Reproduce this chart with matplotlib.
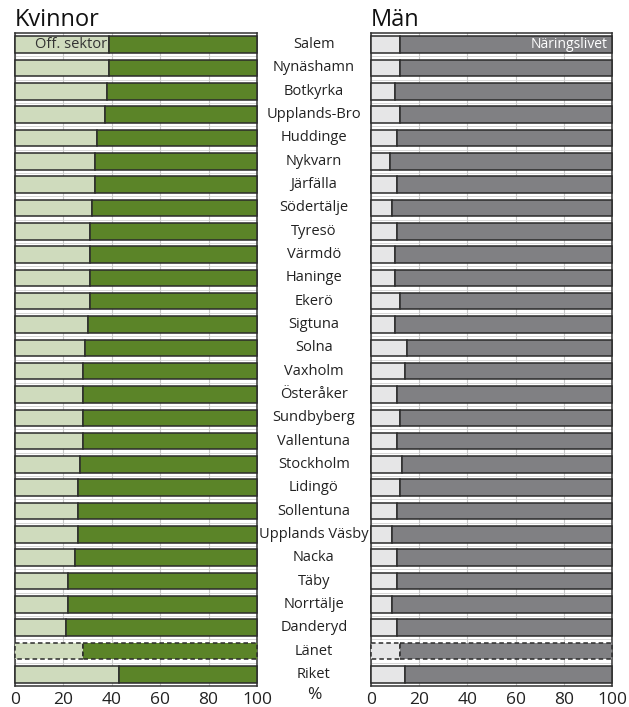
import matplotlib.pyplot as plt
import numpy as np

plt.rcParams['font.family'] = ['Open Sans', 'DejaVu Sans']

kommuner = ["Salem", "Nynäshamn", "Botkyrka", "Upplands-Bro", "Huddinge", "Nykvarn",
            "Järfälla", "Södertälje", "Tyresö", "Värmdö", "Haninge", "Ekerö", "Sigtuna",
            "Solna", "Vaxholm", "Österåker", "Sundbyberg", "Vallentuna", "Stockholm",
            "Lidingö", "Sollentuna", "Upplands Väsby", "Nacka", "Täby", "Norrtälje",
            "Danderyd", "Länet", "Riket"]
# andel offentlig sektor (%)
kvinnor_off = [39, 39, 38, 37, 34, 33, 33, 32, 31, 31, 31, 31, 30, 29, 28, 28, 28, 28,
               27, 26, 26, 26, 25, 22, 22, 21, 28, 43]
man_off = [12, 12, 10, 12, 11, 8, 11, 9, 11, 10, 10, 12, 10, 15, 14, 11, 12, 11,
           13, 12, 11, 9, 11, 11, 9, 11, 12, 14]
ticks = [0, 20, 40, 60, 80, 100]

fig = plt.figure(figsize=(6.29, 7.07), dpi=100)
ax1 = fig.add_axes([0.0238, 0.0297, 0.3848, 0.9236])
ax2 = fig.add_axes([0.5894, 0.0297, 0.3841, 0.9236])

y = np.arange(len(kommuner))
h = 0.71

def rita(ax, off, ljus, mork):
    off = np.array(off)
    rest = 100 - off
    for i in y:
        ls = (0, (3, 2)) if kommuner[i] == "Länet" else '-'
        ax.barh(i, off[i], height=h, color=ljus, edgecolor='#2b2b2b', lw=1.1, ls=ls,
                zorder=3, clip_on=False)
        ax.barh(i, rest[i], left=off[i], height=h, color=mork, edgecolor='#2b2b2b',
                lw=1.1, ls=ls, zorder=3, clip_on=False)
    ax.set_xlim(0, 100)
    ax.set_ylim(len(kommuner) - 0.5, -0.5)
    ax.set_xticks(ticks)
    ax.set_xticklabels([str(t) for t in ticks], fontsize=12.5, color='#222222')
    ax.tick_params(axis='x', length=0, pad=4)
    ax.set_yticks([])
    ax.set_yticks(y[:-1] + 0.5, minor=True)
    ax.tick_params(axis='y', which='minor', length=0)
    ax.grid(axis='x', color='#c8c8c8', lw=0.8, zorder=0)
    ax.grid(axis='y', which='minor', color='#d0d0d0', lw=0.6, zorder=0)
    for s in ax.spines.values():
        s.set_color('#333333')
        s.set_linewidth(1.1)

rita(ax1, kvinnor_off, '#cfdbbd', '#5b8428')
rita(ax2, man_off, '#e6e6e7', '#808083')

ax1.text(0, -0.55, "Kvinnor", fontsize=17, ha='left', va='bottom', color='#111111')
ax2.text(0, -0.55, "Män", fontsize=17, ha='left', va='bottom', color='#111111')
ax1.text(kvinnor_off[0] - 1, 0, "Off. sektor", fontsize=10.5, ha='right', va='center',
         color='#333333', zorder=5)
ax2.text(98, 0, "Näringslivet", fontsize=10, ha='right', va='center', color='white', zorder=5)

# kommunnamn i mitten
mid = (0.4086 + 0.5894) / 2
for i, namn in enumerate(kommuner):
    yy = ax1.transData.transform((0, i))[1]
    fy = fig.transFigure.inverted().transform((0, yy))[1]
    fig.text(mid, fy, namn, fontsize=10.5, ha='center', va='center', color='#222222')
fig.text(mid, 0.017, "%", fontsize=12.5, ha='center', va='center', color='#222222')

fig.savefig("out.png", dpi=100)
